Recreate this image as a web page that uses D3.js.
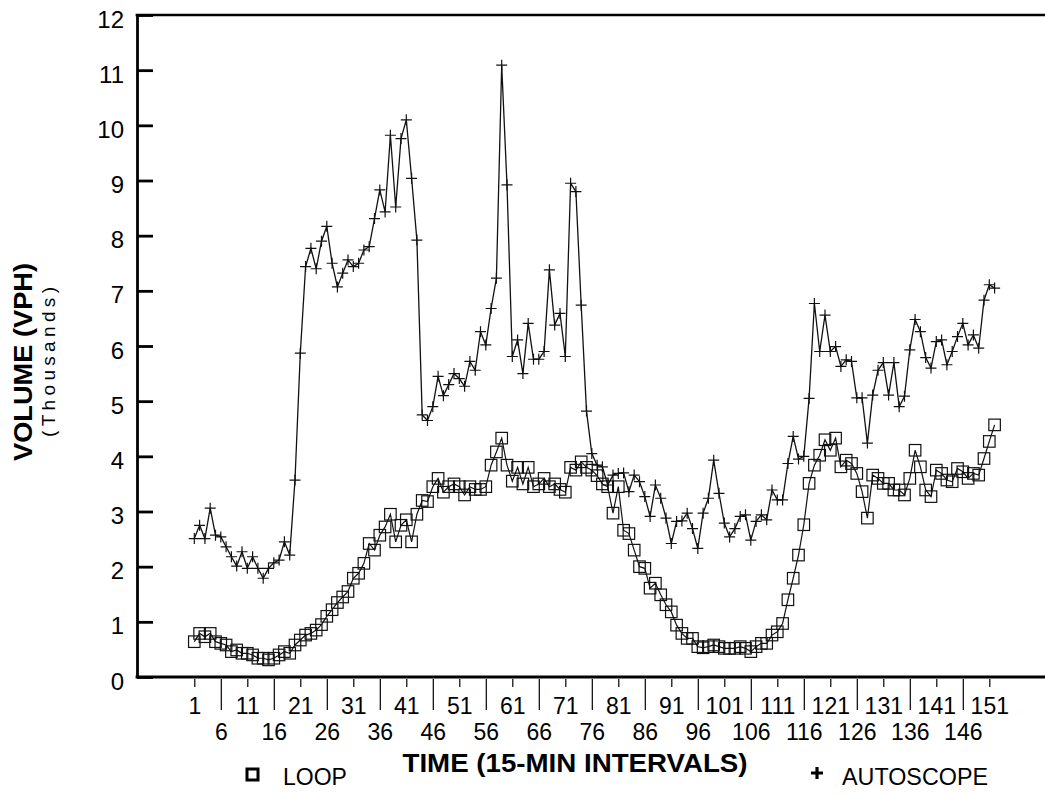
<!DOCTYPE html>
<html>
<head>
<meta charset="utf-8">
<script src="https://cdn.jsdelivr.net/npm/d3@7"></script>
<style>
body { margin: 0; background: #fff; }
svg { display: block; font-family: "Liberation Sans", Arial, sans-serif; }
</style>
</head>
<body>
<div id="vis"></div>
<script>
const FRAME_WIDTH = 1045;
const FRAME_HEIGHT = 794;

// volumes in thousands of vph, one per 15-min interval
const loop = [
	0.64, 0.79, 0.73, 0.79, 0.64, 0.61, 0.58, 0.46, 0.49, 0.43,
	0.43, 0.40, 0.34, 0.34, 0.31, 0.34, 0.40, 0.46, 0.43, 0.58,
	0.67, 0.76, 0.79, 0.85, 0.95, 1.10, 1.22, 1.35, 1.45, 1.55,
	1.79, 1.88, 2.06, 2.42, 2.30, 2.57, 2.72, 2.95, 2.45, 2.75,
	2.85, 2.45, 2.95, 3.20, 3.18, 3.45, 3.60, 3.35, 3.45, 3.50,
	3.45, 3.30, 3.45, 3.40, 3.40, 3.45, 3.84, 4.08, 4.33, 3.84,
	3.55, 3.80, 3.50, 3.80, 3.45, 3.50, 3.60, 3.45, 3.50, 3.40,
	3.35, 3.80, 3.75, 3.90, 3.80, 3.75, 3.65, 3.50, 3.45, 2.97,
	3.45, 2.66, 2.60, 2.30, 2.00, 1.97, 1.61, 1.70, 1.49, 1.31,
	1.18, 0.94, 0.79, 0.70, 0.70, 0.55, 0.53, 0.55, 0.58, 0.55,
	0.52, 0.52, 0.52, 0.55, 0.52, 0.46, 0.55, 0.61, 0.61, 0.76,
	0.82, 0.97, 1.40, 1.79, 2.21, 2.76, 3.51, 3.84, 4.02, 4.30,
	4.11, 4.33, 3.81, 3.93, 3.87, 3.69, 3.36, 2.88, 3.66, 3.60,
	3.51, 3.51, 3.39, 3.39, 3.30, 3.60, 4.11, 3.81, 3.39, 3.27,
	3.75, 3.69, 3.57, 3.54, 3.78, 3.72, 3.60, 3.69, 3.66, 3.96,
	4.27, 4.57
];

const autoscope = [
	2.51, 2.75, 2.51, 3.06, 2.57, 2.54, 2.36, 2.18, 2.01, 2.27,
	1.97, 2.18, 1.97, 1.79, 1.97, 2.07, 2.12, 2.45, 2.21, 3.57,
	5.87, 7.44, 7.77, 7.40, 7.90, 8.17, 7.50, 7.07, 7.32, 7.56,
	7.44, 7.50, 7.74, 7.80, 8.31, 8.83, 8.43, 9.82, 8.52, 9.76,
	10.10, 9.04, 7.92, 4.75, 4.65, 4.90, 5.45, 5.10, 5.30, 5.50,
	5.41, 5.27, 5.72, 5.56, 6.26, 6.02, 6.68, 7.23, 11.09, 8.92,
	5.81, 6.11, 5.50, 6.41, 5.76, 5.76, 5.90, 7.38, 6.38, 6.59,
	5.81, 8.95, 8.80, 6.74, 4.82, 4.05, 3.84, 3.81, 3.48, 3.66,
	3.69, 3.70, 3.36, 3.66, 3.54, 3.27, 2.91, 3.48, 3.24, 2.88,
	2.42, 2.82, 2.83, 2.97, 2.69, 2.33, 2.97, 3.24, 3.93, 3.33,
	2.79, 2.54, 2.69, 2.91, 2.94, 2.48, 2.82, 2.94, 2.85, 3.39,
	3.21, 3.21, 3.87, 4.36, 3.95, 4.00, 5.05, 6.77, 5.90, 6.56,
	5.90, 5.99, 5.63, 5.75, 5.72, 5.06, 5.06, 4.24, 5.11, 5.56,
	5.70, 5.11, 5.70, 4.90, 5.09, 5.93, 6.48, 6.26, 5.79, 5.60,
	6.08, 6.11, 5.66, 5.90, 6.17, 6.41, 6.02, 6.20, 5.96, 6.83,
	7.11, 7.05
];

const xTickLabels = [1, 6, 11, 16, 21, 26, 31, 36, 41, 46, 51, 56, 61, 66, 71, 76,
	81, 86, 91, 96, 101, 106, 111, 116, 121, 126, 131, 136, 141, 146, 151];
const yTickLabels = [0, 1, 2, 3, 4, 5, 6, 7, 8, 9, 10, 11, 12];

const LEFT = 137;
const TOP = 15;
const BOTTOM = 677;

const FRAME = d3.select("#vis")
	.append("svg")
		.attr("width", FRAME_WIDTH)
		.attr("height", FRAME_HEIGHT);

FRAME.append("rect")
	.attr("width", FRAME_WIDTH)
	.attr("height", FRAME_HEIGHT)
	.attr("fill", "#fff");

// scales
const X_SCALE = d3.scaleLinear()
	.domain([1, 151])
	.range([194.3, 989.3]);

const Y_SCALE = d3.scaleLinear()
	.domain([0, 12])
	.range([BOTTOM, TOP]);

const rows = loop.map((d, i) => ({t: i + 1, loop: d, auto: autoscope[i]}));

// series lines
const lineLoop = d3.line().x(d => X_SCALE(d.t)).y(d => Y_SCALE(d.loop));
const lineAuto = d3.line().x(d => X_SCALE(d.t)).y(d => Y_SCALE(d.auto));

FRAME.append("path")
	.datum(rows)
	.attr("d", lineLoop)
	.attr("fill", "none")
	.attr("stroke", "#111")
	.attr("stroke-width", 1.2);

FRAME.append("path")
	.datum(rows)
	.attr("d", lineAuto)
	.attr("fill", "none")
	.attr("stroke", "#111")
	.attr("stroke-width", 1.3);

// loop markers: open squares
FRAME.selectAll(".sq")
	.data(rows)
	.enter()
	.append("rect")
		.attr("class", "sq")
		.attr("x", d => X_SCALE(d.t) - 5.75)
		.attr("y", d => Y_SCALE(d.loop) - 5.75)
		.attr("width", 11.5)
		.attr("height", 11.5)
		.attr("fill", "none")
		.attr("stroke", "#111")
		.attr("stroke-width", 1.2);

// autoscope markers: plus signs
FRAME.selectAll(".plus")
	.data(rows)
	.enter()
	.append("path")
		.attr("class", "plus")
		.attr("transform", d => "translate(" + X_SCALE(d.t) + "," + Y_SCALE(d.auto) + ")")
		.attr("d", "M-5.5,0H5.5M0,-5.5V5.5")
		.attr("stroke", "#111")
		.attr("stroke-width", 1.2);

// y axis, ticks pointing into the plot
const yAxis = FRAME.append("g")
	.attr("transform", "translate(" + LEFT + ",0)")
	.call(d3.axisLeft(Y_SCALE)
		.tickValues(yTickLabels)
		.tickSizeInner(-16)
		.tickSizeOuter(0)
		.tickPadding(13));

yAxis.select(".domain").attr("stroke", "#000").attr("stroke-width", 2.8);
yAxis.selectAll(".tick line").attr("stroke", "#000").attr("stroke-width", 2.8);
yAxis.selectAll(".tick text")
	.attr("font-size", 24)
	.attr("fill", "#000")
	.attr("dy", "0.5em");

// x axis with alternating short / long ticks
const xAxis = FRAME.append("g")
	.attr("transform", "translate(0," + BOTTOM + ")")
	.call(d3.axisBottom(X_SCALE)
		.tickValues(xTickLabels)
		.tickSize(10)
		.tickSizeOuter(0));

xAxis.select(".domain").remove();
xAxis.selectAll(".tick line")
	.attr("stroke", "#000")
	.attr("stroke-width", 1.2)
	.attr("y1", 2)
	.attr("y2", (d, i) => i % 2 ? 33 : 10);
xAxis.selectAll(".tick text")
	.attr("font-size", 23)
	.attr("fill", "#000")
	.attr("dy", 0)
	.attr("y", (d, i) => i % 2 ? 63 : 37);

// frame lines
FRAME.append("line")
	.attr("x1", LEFT - 1.4).attr("x2", FRAME_WIDTH)
	.attr("y1", BOTTOM).attr("y2", BOTTOM)
	.attr("stroke", "#000").attr("stroke-width", 3);

FRAME.append("line")
	.attr("x1", LEFT - 1.4).attr("x2", FRAME_WIDTH)
	.attr("y1", TOP).attr("y2", TOP)
	.attr("stroke", "#000").attr("stroke-width", 2.6);

// axis titles
FRAME.append("text")
	.attr("x", 575)
	.attr("y", 772)
	.attr("text-anchor", "middle")
	.attr("font-size", 25)
	.attr("font-weight", "bold")
	.attr("textLength", 345)
	.attr("lengthAdjust", "spacingAndGlyphs")
	.text("TIME (15-MIN INTERVALS)");

FRAME.append("text")
	.attr("transform", "translate(32,362) rotate(-90)")
	.attr("text-anchor", "middle")
	.attr("font-size", 25)
	.attr("font-weight", "bold")
	.attr("textLength", 198)
	.attr("lengthAdjust", "spacingAndGlyphs")
	.text("VOLUME (VPH)");

FRAME.append("text")
	.attr("transform", "translate(55,362) rotate(-90)")
	.attr("text-anchor", "middle")
	.attr("font-size", 19)
	.attr("textLength", 150)
	.attr("lengthAdjust", "spacing")
	.text("(Thousands)");

// legend
FRAME.append("rect")
	.attr("x", 247).attr("y", 769)
	.attr("width", 11).attr("height", 11)
	.attr("fill", "none")
	.attr("stroke", "#000")
	.attr("stroke-width", 3);

FRAME.append("text")
	.attr("x", 283).attr("y", 785)
	.attr("font-size", 23)
	.text("LOOP");

FRAME.append("path")
	.attr("transform", "translate(817,773)")
	.attr("d", "M-6,0H6M0,-6V6")
	.attr("stroke", "#000")
	.attr("stroke-width", 3.2);

FRAME.append("text")
	.attr("x", 842).attr("y", 785)
	.attr("font-size", 23)
	.attr("textLength", 146)
	.attr("lengthAdjust", "spacingAndGlyphs")
	.text("AUTOSCOPE");
</script>
</body>
</html>
